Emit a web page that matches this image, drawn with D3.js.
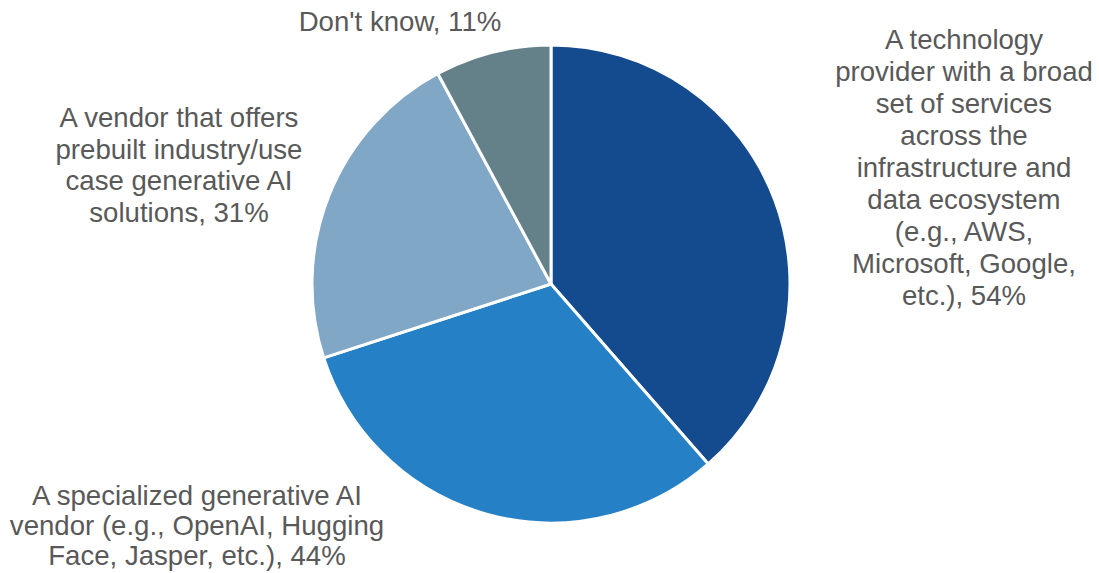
<!DOCTYPE html>
<html>
<head>
<meta charset="utf-8">
<script src="https://cdn.jsdelivr.net/npm/d3@7"></script>
<style>
  body { margin: 0; background: #fff; }
  .lbl { font-family: "Liberation Sans", Arial, sans-serif; font-size: 27.6px; fill: #595959; }
</style>
</head>
<body>
<div id="chart"></div>
<script>
// chart data
var categories = [
    "A technology provider with a broad set of services across the infrastructure and data ecosystem (e.g., AWS, Microsoft, Google, etc.)",
    "A specialized generative AI vendor (e.g., OpenAI, Hugging Face, Jasper, etc.)",
    "A vendor that offers prebuilt industry/use case generative AI solutions",
    "Don't know"
];
var values = [54, 44, 31, 11];
var colors = ["#144b8e", "#2580c5", "#80a7c6", "#648189"];

// label lines as they wrap in the picture
var labelLines = [
    ["A technology", "provider with a broad", "set of services", "across the", "infrastructure and", "data ecosystem", "(e.g., AWS,", "Microsoft, Google,", "etc.), 54%"],
    ["A specialized generative AI", "vendor (e.g., OpenAI, Hugging", "Face, Jasper, etc.), 44%"],
    ["A vendor that offers", "prebuilt industry/use", "case generative AI", "solutions, 31%"],
    ["Don't know, 11%"]
];

var width = 1099;
var height = 573;
var cx = 551, cy = 284, radius = 239;

// label block anchor (center x, first baseline, line height)
var labelAnchor = [[964, 49, 32], [197, 505, 30], [179, 127, 31.7], [400, 31, 30]];

var svg = d3.select("#chart")
    .append("svg")
    .attr("width", width)
    .attr("height", height);

var pie = d3.pie().sort(null).value(function(d) { return d; });
var arc = d3.arc().innerRadius(0).outerRadius(radius);

var g = svg.append("g").attr("transform", `translate(${cx}, ${cy})`);

g.selectAll("path")
    .data(pie(values))
    .enter()
    .append("path")
    .attr("d", arc)
    .attr("fill", function(d, i) { return colors[i]; })
    .attr("stroke", "#fff")
    .attr("stroke-width", 3)
    .attr("stroke-linejoin", "round");

// labels
labelLines.forEach(function(lines, i) {
    var a = labelAnchor[i];
    var t = svg.append("text")
        .attr("class", "lbl")
        .attr("text-anchor", "middle")
        .attr("x", a[0])
        .attr("y", a[1]);
    lines.forEach(function(line, j) {
        t.append("tspan")
            .attr("x", a[0])
            .attr("y", a[1] + j * a[2])
            .text(line);
    });
});
</script>
</body>
</html>
